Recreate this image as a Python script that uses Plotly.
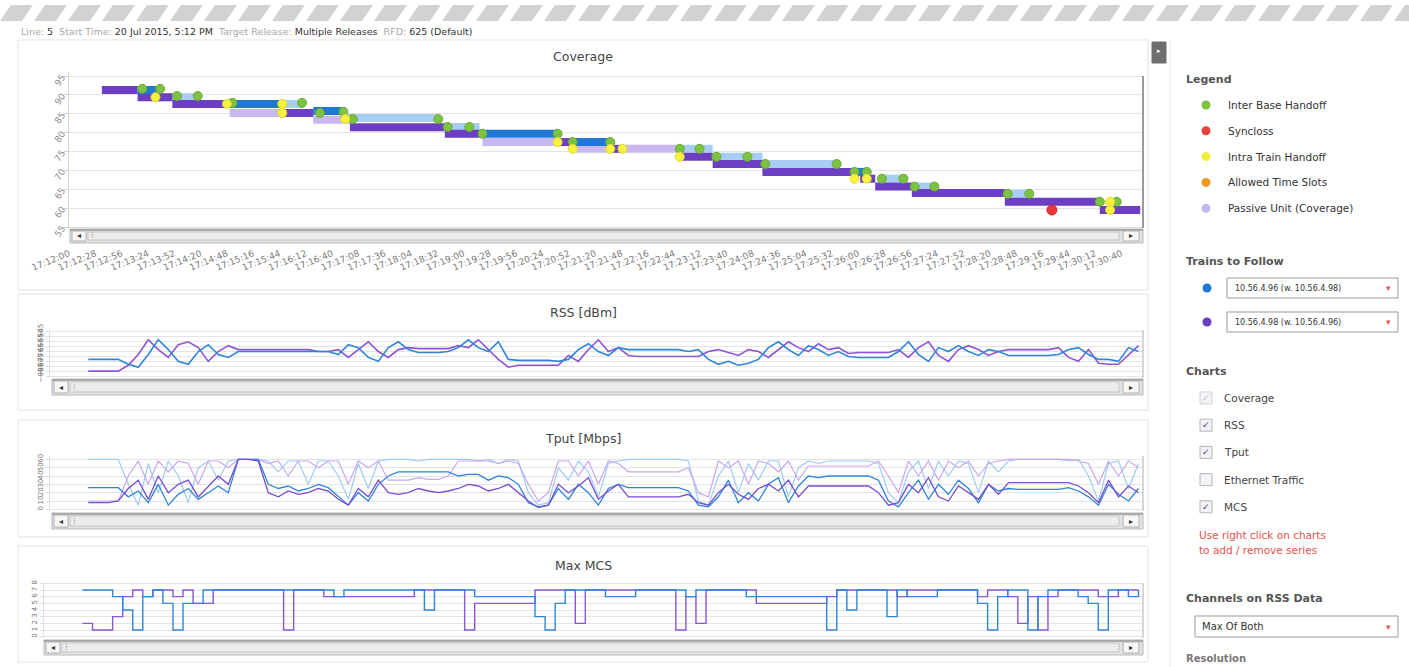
import plotly.graph_objects as go

W, H = 1409, 667
FONT = "DejaVu Sans"

# ---------------- data ----------------
TICK_LABELS = ["17:12:00", "17:12:28", "17:12:56", "17:13:24", "17:13:52", "17:14:20", "17:14:48",
               "17:15:16", "17:15:44", "17:16:12", "17:16:40", "17:17:08", "17:17:36", "17:18:04",
               "17:18:32", "17:19:00", "17:19:28", "17:19:56", "17:20:24", "17:20:52", "17:21:20",
               "17:21:48", "17:22:16", "17:22:44", "17:23:12", "17:23:40", "17:24:08", "17:24:36",
               "17:25:04", "17:25:32", "17:26:00", "17:26:28", "17:26:56", "17:27:24", "17:27:52",
               "17:28:20", "17:28:48", "17:29:16", "17:29:44", "17:30:12", "17:30:40"]
TICK_STEP_S = 28
TIME_SPAN_S = 1143

# Coverage (seconds after 17:12:00 -> coverage value)
PURPLE_SEG_START = [35, 73, 110, 224, 299, 400, 519, 579, 650, 685, 738, 842, 858, 897, 996, 1097]
PURPLE_SEG_END = [73, 110, 171, 260, 400, 437, 536, 589, 685, 738, 842, 858, 897, 996, 1097, 1140]
PURPLE_SEG_VALUE = [91.3, 89.4, 87.6, 85.2, 81.4, 79.7, 77.5, 75.7, 73.6, 71.7, 69.6, 67.8, 65.7, 64.0, 61.7, 59.5]

BLUE_SEG_START = [73, 171, 260, 440, 536, 836]
BLUE_SEG_END = [94, 224, 294, 519, 576, 849]
BLUE_SEG_VALUE = [91.3, 87.6, 85.7, 79.7, 77.5, 69.6]

LBLUE_SEG_START = [94, 224, 294, 398, 650, 685, 738, 863, 898, 998]
LBLUE_SEG_END = [139, 248, 392, 437, 685, 738, 817, 892, 924, 1022]
LBLUE_SEG_VALUE = [89.4, 87.6, 83.9, 81.5, 75.7, 73.6, 71.7, 67.8, 65.7, 63.8]

LPURPLE_SEG_START = [171, 260, 440, 536, 589]
LPURPLE_SEG_END = [224, 299, 519, 579, 650]
LPURPLE_SEG_VALUE = [85.2, 83.4, 77.5, 75.7, 75.7]

INTER_BASE_T = [78, 97, 115, 137, 174, 248, 267, 292, 302, 393, 403, 426, 440, 520, 536, 576,
                650, 671, 689, 722, 741, 817, 836, 849, 865, 888, 900, 921, 999, 1022, 1097, 1115]
INTER_BASE_V = [91.6, 91.6, 89.7, 89.7, 87.9, 87.9, 85.2, 85.5, 83.6, 83.6, 81.5, 81.5, 79.7, 79.7, 77.5, 77.5,
                75.7, 75.7, 73.6, 73.6, 71.7, 71.7, 69.6, 69.6, 67.8, 67.8, 65.7, 65.7, 63.8, 63.8, 61.7, 61.7]
INTRA_TRAIN_T = [92, 168, 227, 227, 294, 520, 536, 576, 589, 650, 836, 849, 1108, 1108]
INTRA_TRAIN_V = [89.4, 87.6, 87.6, 85.2, 83.6, 77.5, 75.7, 75.7, 75.7, 73.6, 67.8, 67.8, 61.7, 59.5]
SYNCLOSS_T = [1046]
SYNCLOSS_V = [59.5]

# Lower charts: samples every ~10.5 s starting 40 s after 17:12:00
SAMPLE_T0 = 40
SAMPLE_DT = 10.46

RSS_BLUE = [-73, -73, -73, -73, -78, -81, -68, -53, -63, -75,
            -78, -65, -58, -68, -71, -65, -65, -65, -65, -65,
            -65, -65, -65, -65, -65, -68, -58, -61, -71, -75,
            -61, -55, -63, -66, -66, -66, -65, -61, -53, -61,
            -65, -55, -73, -74, -74, -74, -74, -75, -73, -63,
            -57, -65, -69, -61, -63, -63, -63, -63, -63, -63,
            -65, -63, -73, -78, -75, -79, -77, -73, -61, -55,
            -63, -69, -59, -63, -69, -65, -70, -71, -71, -71,
            -71, -65, -55, -68, -75, -61, -65, -59, -65, -69,
            -63, -65, -69, -69, -69, -69, -69, -68, -63, -61,
            -68, -73, -73, -75, -61, -65]
RSS_PURPLE = [-85, -85, -85, -85, -79, -68, -53, -63, -71, -58,
              -55, -61, -75, -65, -59, -63, -63, -63, -63, -63,
              -63, -63, -63, -65, -65, -63, -71, -63, -55, -65,
              -71, -63, -61, -62, -62, -62, -62, -59, -61, -53,
              -63, -73, -81, -79, -79, -79, -79, -79, -69, -75,
              -63, -53, -65, -61, -69, -70, -70, -70, -70, -70,
              -70, -70, -65, -63, -66, -69, -63, -65, -71, -63,
              -55, -61, -65, -57, -63, -61, -67, -66, -66, -66,
              -66, -63, -71, -61, -55, -69, -75, -63, -59, -63,
              -69, -65, -63, -63, -63, -63, -63, -61, -71, -75,
              -63, -77, -78, -78, -68, -59]

TPUT_LBLUE = [60, 60, 60, 60, 30, 5, 55, 20, 58, 40,
              8, 50, 58, 35, 58, 60, 60, 60, 58, 45,
              58, 58, 30, 58, 58, 40, 12, 55, 25, 58,
              60, 60, 60, 58, 60, 60, 60, 60, 60, 58,
              60, 55, 60, 58, 20, 5, 8, 50, 35, 58,
              45, 15, 55, 58, 60, 60, 60, 60, 60, 60,
              58, 10, 5, 40, 58, 20, 55, 35, 58, 58,
              15, 50, 58, 55, 58, 58, 58, 58, 58, 55,
              20, 8, 45, 58, 25, 58, 40, 58, 55, 20,
              58, 45, 58, 60, 60, 60, 60, 60, 58, 60,
              40, 10, 55, 58, 25, 55]
TPUT_BLUE = [26, 26, 26, 26, 15, 22, 8, 30, 5, 18,
             25, 12, 20, 28, 20, 60, 60, 60, 30, 25,
             28, 22, 25, 30, 26, 15, 5, 20, 10, 30,
             40, 45, 45, 45, 45, 45, 45, 40, 42, 42,
             35, 40, 38, 30, 8, 3, 5, 25, 12, 30,
             20, 5, 25, 30, 26, 26, 26, 26, 26, 26,
             22, 5, 3, 15, 35, 8, 20, 10, 30, 38,
             8, 28, 40, 38, 40, 40, 40, 40, 40, 35,
             10, 3, 20, 35, 12, 30, 18, 35, 25, 8,
             30, 22, 25, 24, 24, 24, 24, 24, 26, 22,
             15, 5, 30, 18, 10, 25]
TPUT_LPURPLE = [10, 10, 10, 10, 40, 58, 30, 58, 45, 58,
                55, 30, 58, 58, 50, 60, 60, 60, 55, 58,
                40, 58, 58, 50, 58, 58, 30, 58, 50, 58,
                35, 35, 35, 38, 36, 36, 40, 58, 58, 58,
                58, 55, 58, 55, 30, 10, 20, 58, 58, 40,
                58, 30, 58, 55, 45, 45, 45, 45, 45, 45,
                50, 20, 15, 58, 50, 58, 30, 58, 55, 45,
                58, 35, 52, 52, 52, 52, 52, 52, 52, 58,
                40, 20, 58, 40, 58, 35, 58, 50, 58, 40,
                55, 58, 60, 60, 60, 60, 60, 60, 60, 58,
                55, 30, 58, 40, 58, 50]
TPUT_PURPLE = [8, 8, 8, 10, 25, 35, 12, 40, 20, 30,
               35, 15, 28, 40, 30, 60, 60, 58, 20, 15,
               22, 18, 20, 25, 22, 12, 5, 25, 15, 35,
               20, 18, 20, 25, 22, 20, 22, 25, 30, 28,
               22, 25, 30, 20, 10, 2, 5, 30, 20, 28,
               38, 12, 22, 30, 15, 15, 15, 15, 15, 15,
               18, 8, 5, 20, 30, 18, 12, 25, 30, 22,
               35, 15, 28, 28, 28, 28, 28, 28, 28, 20,
               5, 8, 30, 20, 38, 15, 10, 28, 20, 12,
               30, 18, 32, 32, 32, 32, 32, 32, 32, 28,
               20, 8, 35, 15, 28, 20]

MCS_BLUE = [7, 7, 7, 6, 4, 1, 6, 7, 5, 1,
            5, 5, 7, 7, 7, 7, 7, 7, 7, 7,
            7, 7, 7, 7, 7, 6, 7, 7, 7, 7,
            7, 7, 7, 7, 4, 7, 7, 7, 7, 6,
            6, 6, 6, 6, 6, 3, 1, 5, 7, 7,
            7, 7, 6, 6, 6, 7, 7, 7, 7, 7,
            6, 7, 7, 7, 7, 7, 6, 6, 6, 6,
            6, 6, 6, 6, 1, 7, 4, 7, 7, 7,
            3, 7, 6, 6, 6, 7, 7, 7, 7, 5,
            1, 6, 7, 7, 1, 6, 7, 7, 7, 6,
            5, 1, 7, 7, 6, 7]
MCS_PURPLE = [2, 1, 1, 3, 6, 7, 6, 7, 7, 6,
              7, 5, 5, 7, 7, 7, 7, 7, 7, 7,
              1, 7, 7, 7, 6, 6, 6, 6, 6, 6,
              6, 6, 6, 7, 7, 7, 7, 7, 1, 5,
              5, 5, 5, 5, 5, 7, 7, 7, 7, 2,
              7, 7, 7, 7, 7, 7, 7, 7, 7, 1,
              6, 2, 7, 7, 7, 7, 7, 5, 5, 5,
              5, 5, 5, 5, 6, 7, 7, 7, 7, 7,
              7, 6, 7, 7, 7, 7, 7, 7, 7, 6,
              7, 7, 6, 2, 6, 1, 6, 7, 7, 7,
              7, 6, 6, 7, 7, 7]

RSS_TICKS = [-90, -85, -80, -75, -70, -65, -60, -55, -50, -45]
TPUT_TICKS = [0, 10, 20, 30, 40, 50, 60]
MCS_TICKS = [0, 1, 2, 3, 4, 5, 6, 7, 8]
COV_TICKS = [55, 60, 65, 70, 75, 80, 85, 90, 95]

LEGEND_ITEMS = ["Inter Base Handoff", "Syncloss", "Intra Train Handoff", "Allowed Time Slots", "Passive Unit (Coverage)"]
LEGEND_COLORS = ["#7dc242", "#e8413c", "#f3ee3a", "#f0961c", "#c4b8f0"]
TRAINS = ["10.56.4.96 (w. 10.56.4.98)", "10.56.4.98 (w. 10.56.4.96)"]
TRAIN_COLORS = ["#1f78d6", "#6c3ec4"]
CHART_OPTIONS = ["Coverage", "RSS", "Tput", "Ethernet Traffic", "MCS"]
CHART_CHECKED = [True, True, True, False, True]

# colours
C_PURPLE = "#6c3ec4"
C_BLUE = "#1f78d6"
C_LBLUE = "#a7cdf4"
C_LPURPLE = "#c8b7f0"
C_RSS_BLUE = "#2f86d8"
C_RSS_PURPLE = "#8d55d6"


def sx(x):
    return x / W


def sy(y):
    return 1 - y / H


def seg_xy(starts, ends, vals):
    xs, ys = [], []
    for s, e, v in zip(starts, ends, vals):
        xs += [s, e, None]
        ys += [v, v, None]
    return xs, ys


def sample_times(values):
    return [SAMPLE_T0 + i * SAMPLE_DT for i in range(len(values))]


fig = go.Figure()

# ---- coverage traces ----
for st, en, va, col in [(LBLUE_SEG_START, LBLUE_SEG_END, LBLUE_SEG_VALUE, C_LBLUE),
                        (LPURPLE_SEG_START, LPURPLE_SEG_END, LPURPLE_SEG_VALUE, C_LPURPLE),
                        (PURPLE_SEG_START, PURPLE_SEG_END, PURPLE_SEG_VALUE, C_PURPLE),
                        (BLUE_SEG_START, BLUE_SEG_END, BLUE_SEG_VALUE, C_BLUE)]:
    xs, ys = seg_xy(st, en, va)
    fig.add_trace(go.Scatter(x=xs, y=ys, mode="lines", line=dict(color=col, width=8),
                             connectgaps=False, xaxis="x", yaxis="y", hoverinfo="skip"))

fig.add_trace(go.Scatter(x=INTER_BASE_T, y=INTER_BASE_V, mode="markers",
                         marker=dict(size=9, color="#7dc242", line=dict(color="#68ad33", width=1)),
                         xaxis="x", yaxis="y"))
fig.add_trace(go.Scatter(x=INTRA_TRAIN_T, y=INTRA_TRAIN_V, mode="markers",
                         marker=dict(size=9, color="#f6f23e", line=dict(color="#e3dc30", width=1)),
                         xaxis="x", yaxis="y"))
fig.add_trace(go.Scatter(x=SYNCLOSS_T, y=SYNCLOSS_V, mode="markers",
                         marker=dict(size=10, color="#e5393c", line=dict(color="#cf2b2e", width=1)),
                         xaxis="x", yaxis="y"))

# ---- RSS ----
fig.add_trace(go.Scatter(x=sample_times(RSS_PURPLE), y=RSS_PURPLE, mode="lines",
                         line=dict(color=C_RSS_PURPLE, width=1.6), xaxis="x2", yaxis="y2"))
fig.add_trace(go.Scatter(x=sample_times(RSS_BLUE), y=RSS_BLUE, mode="lines",
                         line=dict(color=C_RSS_BLUE, width=1.6), xaxis="x2", yaxis="y2"))

# ---- Tput ----
for vals, col, wd in [(TPUT_LBLUE, "#9fcbf2", 1.2), (TPUT_LPURPLE, "#c9a6f0", 1.2),
                      (TPUT_BLUE, "#2f86d8", 1.3), (TPUT_PURPLE, "#7a4cd0", 1.3)]:
    fig.add_trace(go.Scatter(x=sample_times(vals), y=vals, mode="lines",
                             line=dict(color=col, width=wd), xaxis="x3", yaxis="y3"))

# ---- MCS ----
fig.add_trace(go.Scatter(x=sample_times(MCS_PURPLE), y=MCS_PURPLE, mode="lines",
                         line=dict(color="#8b55d8", width=1.4, shape="hv"), xaxis="x4", yaxis="y4"))
fig.add_trace(go.Scatter(x=sample_times(MCS_BLUE), y=MCS_BLUE, mode="lines",
                         line=dict(color="#2f86d8", width=1.4, shape="hv"), xaxis="x4", yaxis="y4"))

shapes = []
annotations = []


def rect(x0, y0, x1, y1, fill="rgba(0,0,0,0)", line="#ddd", width=1, layer="above"):
    shapes.append(dict(type="rect", xref="paper", yref="paper", x0=sx(x0), x1=sx(x1),
                       y0=sy(y1), y1=sy(y0), fillcolor=fill, line=dict(color=line, width=width), layer=layer))


def hline(x0, x1, y, color, width=1):
    shapes.append(dict(type="line", xref="paper", yref="paper", x0=sx(x0), x1=sx(x1),
                       y0=sy(y), y1=sy(y), line=dict(color=color, width=width)))


def vline(x, y0, y1, color, width=1):
    shapes.append(dict(type="line", xref="paper", yref="paper", x0=sx(x), x1=sx(x),
                       y0=sy(y0), y1=sy(y1), line=dict(color=color, width=width)))


def circle(cx, cy, r, color):
    shapes.append(dict(type="circle", xref="paper", yref="paper", x0=sx(cx - r), x1=sx(cx + r),
                       y0=sy(cy + r), y1=sy(cy - r), fillcolor=color, line=dict(color=color, width=0)))


def text(x, y, s, size=11, color="#333", xanchor="left", yanchor="middle", textangle=0):
    annotations.append(dict(x=sx(x), y=sy(y), xref="paper", yref="paper", text=s, showarrow=False,
                            xanchor=xanchor, yanchor=yanchor, textangle=textangle,
                            font=dict(size=size, color=color, family=FONT)))


# ---- header hatch ----
for k in range(-1, 44):
    x0 = k * 34
    shapes.append(dict(type="path", xref="paper", yref="paper",
                       path=f"M {sx(x0)},{sy(21)} L {sx(x0 + 22)},{sy(21)} L {sx(x0 + 33)},{sy(5)} L {sx(x0 + 11)},{sy(5)} Z",
                       fillcolor="#d2d2d2", line=dict(width=0)))

info = ('<span style="color:#a8a8a8">Line:</span> 5  '
        '<span style="color:#a8a8a8">Start Time:</span> 20 Jul 2015, 5:12 PM  '
        '<span style="color:#a8a8a8">Target Release:</span> Multiple Releases  '
        '<span style="color:#a8a8a8">RFD:</span> 625 (Default)')
text(19, 31, info, size=9.5, color="#333")

# ---- panels ----
PANELS = [(40, 290, 57, "Coverage"), (294, 410, 312, "RSS [dBm]"),
          (420, 537, 438, "Tput [Mbps]"), (546, 662, 565, "Max MCS")]
for top, bot, ty, title in PANELS:
    rect(18, top, 1148, bot, fill="rgba(0,0,0,0)", line="#e2e2e2", width=1, layer="below")
    text(583, ty, title, size=12.5, color="#444", xanchor="center")


def scrollbar(x0, x1, y0, y1):
    rect(x0, y0, x1, y1, fill="#e3e3e3", line="#b8b8b8", width=1)
    hline(x0, x1, y0 + 1, "#9a9a9a", 1.5)
    rect(x0 + 2, y0 + 2, x0 + 16, y1 - 2, fill="#f7f7f7", line="#b0b0b0")
    text(x0 + 9, (y0 + y1) / 2, "◂", size=8, color="#333", xanchor="center")
    rect(x0 + 18, y0 + 3, x1 - 24, y1 - 3, fill="#ececec", line="#c6c6c6")
    text(x0 + 22, (y0 + y1) / 2, "⁞", size=8, color="#aaa", xanchor="center")
    rect(x1 - 20, y0 + 2, x1 - 4, y1 - 2, fill="#f7f7f7", line="#b0b0b0")
    text(x1 - 12, (y0 + y1) / 2, "▸", size=8, color="#333", xanchor="center")


scrollbar(70, 1143, 229, 243)
scrollbar(52, 1143, 379, 395)
scrollbar(52, 1143, 513, 529)
scrollbar(44, 1143, 640, 655)

# plot right-edge shadows
vline(1143, 76, 228, "#9a9a9a", 2)
vline(1143, 330, 378, "#c8c8c8", 1.5)
vline(1143, 456, 511, "#c8c8c8", 1.5)
vline(1143, 583, 638, "#c8c8c8", 1.5)

# ---- sidebar ----
rect(1152, 42, 1166, 63, fill="#6e6e6e", line="#6e6e6e")
text(1159, 51, "▸", size=7, color="#fff", xanchor="center")
vline(1170, 40, 667, "#ececec", 1)

text(1184, 79, "<b>Legend</b>", size=11, color="#555")
for i, (lab, col) in enumerate(zip(LEGEND_ITEMS, LEGEND_COLORS)):
    y = 105 + i * 25.8
    circle(1206, y, 4.5, col)
    text(1226, y, lab, size=10.5, color="#333")

text(1184, 261, "<b>Trains to Follow</b>", size=11, color="#555")
for i, (lab, col) in enumerate(zip(TRAINS, TRAIN_COLORS)):
    y = 288 + i * 34
    circle(1207, y, 4.5, col)
    rect(1227, y - 10, 1398, y + 10, fill="#fff", line="#9a9a9a")
    text(1233, y, lab, size=8, color="#333")
    text(1388, y, "▾", size=9, color="#e05a5a", xanchor="center")

text(1184, 371, "<b>Charts</b>", size=11, color="#555")
for i, (lab, chk) in enumerate(zip(CHART_OPTIONS, CHART_CHECKED)):
    y = 398 + i * 27.2
    disabled = (i == 0)
    rect(1200, y - 6, 1212, y + 6, fill="#f2f2f7", line="#b5b5b5" if not disabled else "#d5d5d5")
    if chk:
        text(1206, y, "✓", size=9, color="#c4c4c4" if disabled else "#3c3c96", xanchor="center")
    text(1222, y, lab, size=10.5, color="#444")

text(1197, 535, "Use right click on charts", size=10.5, color="#e8524c")
text(1197, 550, "to add / remove series", size=10.5, color="#e8524c")

text(1184, 598, "<b>Channels on RSS Data</b>", size=11, color="#555")
rect(1195, 616, 1398, 637, fill="#fff", line="#9a9a9a")
text(1200, 626.5, "Max Of Both", size=10, color="#333")
text(1388, 626.5, "▾", size=9, color="#e05a5a", xanchor="center")
text(1184, 658, "<b>Resolution</b>", size=10, color="#777")

grid = "#e4e4e4"
fig.update_layout(
    width=W, height=H, margin=dict(l=0, r=0, t=0, b=0, autoexpand=False),
    paper_bgcolor="#ffffff", plot_bgcolor="#ffffff",
    showlegend=False, font=dict(family=FONT, size=10, color="#555"),
    shapes=shapes, annotations=annotations,
    xaxis=dict(domain=[sx(69), sx(1143)], range=[0, TIME_SPAN_S], anchor="y", automargin=False,
               tickvals=[i * TICK_STEP_S for i in range(len(TICK_LABELS))], ticktext=TICK_LABELS,
               tickangle=-22, tickfont=dict(size=9, color="#7a7a7a"), showgrid=False,
               zeroline=False, showline=False, ticks="", ticklabelstandoff=17),
    yaxis=dict(domain=[sy(229), sy(72)], range=[54.47, 96.06], anchor="x", automargin=False,
               tickvals=COV_TICKS, tickangle=-55, tickfont=dict(size=9, color="#8a8a8a"),
               gridcolor=grid, zeroline=False, showline=True, linecolor="#d5d5d5",
               ticks="outside", ticklen=4, tickcolor="#d0d0d0"),
    xaxis2=dict(domain=[sx(50), sx(1143)], range=[0, TIME_SPAN_S], anchor="y2", automargin=False,
                showticklabels=False, showgrid=False, zeroline=False),
    yaxis2=dict(domain=[sy(378), sy(330)], range=[-92, -43], anchor="x2", tickvals=RSS_TICKS,
                automargin=False,
                tickangle=-90, tickfont=dict(size=7, color="#777"), gridcolor=grid, zeroline=False,
                showline=True, linecolor="#e0e0e0", ticks="outside", ticklen=3, tickcolor="#ddd"),
    xaxis3=dict(domain=[sx(50), sx(1143)], range=[0, TIME_SPAN_S], anchor="y3", automargin=False,
                showticklabels=False, showgrid=False, zeroline=False),
    yaxis3=dict(domain=[sy(511), sy(456)], range=[-2, 64], anchor="x3", tickvals=TPUT_TICKS,
                automargin=False,
                tickangle=-90, tickfont=dict(size=7, color="#777"), gridcolor=grid, zeroline=False,
                showline=True, linecolor="#e0e0e0", ticks="outside", ticklen=3, tickcolor="#ddd"),
    xaxis4=dict(domain=[sx(44), sx(1143)], range=[0, TIME_SPAN_S], anchor="y4", automargin=False,
                showticklabels=False, showgrid=False, zeroline=False),
    yaxis4=dict(domain=[sy(638), sy(582)], range=[-0.2, 8.2], anchor="x4", tickvals=MCS_TICKS,
                automargin=False,
                tickangle=-90, tickfont=dict(size=7, color="#777"), gridcolor=grid, zeroline=False,
                showline=True, linecolor="#e0e0e0", ticks="outside", ticklen=3, tickcolor="#ddd"),
)

fig.write_html("out.html", config={"displayModeBar": False},
               post_script="document.body.style.margin='0';document.body.style.overflow='hidden';")
